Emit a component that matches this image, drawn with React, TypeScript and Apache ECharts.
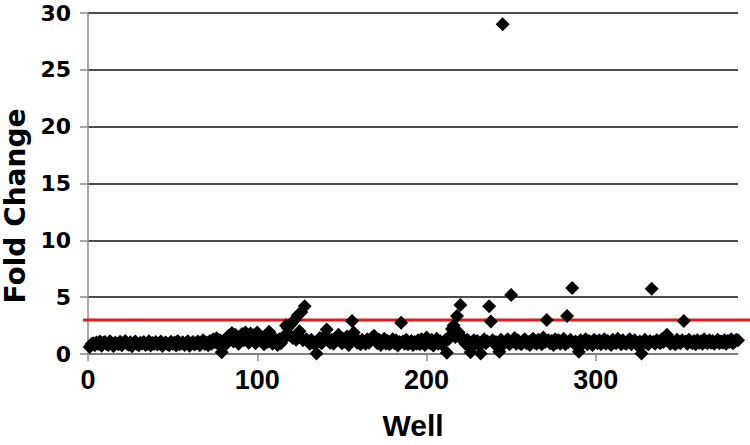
import React, { useEffect, useRef } from "react";
import * as echarts from "echarts";

// Fold change per well (wells 1..384)
const foldChange: number[] = [
  0.62, 0.85, 0.95, 0.78, 1.02, 0.9, 1.1, 0.72, 0.98, 1.05, 0.88, 0.8, 1.12, 0.95, 0.7, 1.0,
  0.92, 0.85, 1.08, 0.76, 0.98, 1.15, 0.9, 0.82, 1.04, 0.68, 0.95, 1.1, 0.87, 0.78, 1.0, 0.93,
  1.06, 0.8, 0.9, 1.12, 0.74, 0.97, 0.88, 1.05, 0.83, 0.92, 1.1, 0.7, 0.95, 1.02, 0.86, 0.78,
  1.08, 0.9, 0.98, 0.75, 1.14, 0.85, 0.93, 1.03, 0.8, 0.96, 1.12, 0.72, 0.9, 1.06, 0.84, 0.99,
  1.1, 0.78, 0.94, 1.2, 0.88, 1.02, 0.76, 1.15, 0.9, 1.3, 1.05, 1.38, 0.85, 1.22, 0.15, 1.1,
  1.25, 0.95, 1.6, 1.45, 1.85, 1.1, 1.7, 1.35, 0.9, 1.55, 1.75, 1.2, 1.9, 1.4, 1.0, 1.8,
  1.3, 1.65, 0.95, 1.9, 1.45, 1.15, 1.2, 0.85, 1.5, 1.05, 1.95, 1.25, 0.9, 1.4, 1.1, 0.8,
  1.3, 0.95, 1.2, 1.6, 2.5, 2.3, 1.7, 2.65, 1.4, 3.0, 1.25, 3.4, 2.0, 3.7, 1.2, 4.2,
  1.3, 1.1, 0.9, 1.25, 1.05, 0.85, 0.05, 1.15, 1.4, 0.95, 1.2, 1.6, 2.15, 1.35, 1.0, 1.25,
  0.9, 1.1, 1.45, 1.7, 1.2, 0.95, 1.3, 1.05, 1.55, 0.8, 1.2, 2.9, 1.9, 1.35, 1.0, 1.15,
  0.85, 1.25, 1.05, 0.9, 1.3, 1.0, 1.2, 1.45, 1.6, 1.1, 0.95, 1.25, 0.8, 1.05, 1.35, 0.9,
  1.15, 0.85, 1.0, 1.3, 0.95, 1.2, 0.75, 1.05, 2.75, 1.1, 0.9, 1.25, 0.85, 1.0, 1.15, 0.8,
  1.05, 0.9, 1.2, 0.85, 1.3, 1.0, 0.8, 1.45, 1.1, 0.95, 1.25, 0.75, 1.05, 1.35, 0.9, 1.15,
  0.85, 1.0, 1.2, 0.1, 1.3, 1.6, 2.2, 2.5, 1.5, 3.35, 1.9, 4.3, 1.4, 1.1, 0.9, 1.25,
  0.8, 0.15, 1.05, 1.2, 0.9, 1.15, 0.85, 0.05, 1.0, 1.3, 0.95, 1.1, 4.2, 2.85, 1.2, 0.9,
  1.05, 0.75, 0.2, 1.25, 29.0, 0.95, 1.15, 1.3, 0.85, 5.2, 1.1, 1.4, 0.9, 1.2, 1.0, 0.85,
  1.15, 1.3, 0.95, 1.05, 0.8, 1.2, 1.35, 1.0, 0.9, 1.25, 1.1, 0.85, 1.45, 1.05, 3.0, 1.2,
  0.95, 1.15, 0.8, 1.3, 1.0, 1.2, 0.9, 1.1, 1.35, 0.85, 3.35, 1.05, 1.25, 5.8, 0.95, 1.1,
  0.75, 0.2, 1.2, 0.9, 1.05, 1.3, 0.85, 1.15, 1.0, 0.8, 1.25, 1.1, 0.95, 1.2, 0.85, 1.05,
  1.3, 0.9, 1.15, 1.0, 0.8, 1.25, 1.05, 0.95, 1.35, 1.1, 0.85, 1.2, 1.0, 0.9, 1.15, 1.3,
  0.85, 1.05, 1.2, 0.95, 0.7, 1.1, 0.05, 0.9, 1.25, 1.0, 0.85, 1.15, 5.75, 1.05, 0.9, 1.2,
  1.1, 0.95, 1.3, 1.05, 1.45, 1.7, 1.2, 0.9, 1.15, 1.0, 0.85, 1.25, 1.05, 0.95, 1.2, 2.9,
  1.1, 0.9, 1.25, 1.05, 0.95, 1.15, 0.85, 1.2, 1.0, 1.1, 0.9, 1.3, 1.05, 0.95, 1.2, 1.0,
  1.15, 0.9, 1.05, 1.25, 0.95, 1.1, 1.0, 1.2, 0.9, 1.15, 1.05, 1.3, 0.95, 1.1, 1.25, 1.2,
];

const xTickValues: number[] = [0, 100, 200, 300];
const threshold = 3;
const xTitle = "Well";
const yTitle = "Fold Change";

export default function App() {
  const ref = useRef<HTMLDivElement>(null);

  useEffect(() => {
    if (!ref.current) return;
    const chart = echarts.init(ref.current, undefined, { renderer: "svg" });
    const points = foldChange.map((v, i) => [i + 1, v]);
    const yFont = "'DejaVu Sans', 'Liberation Sans', sans-serif";
    const xFont = "'Liberation Sans', Arial, sans-serif";

    chart.setOption({
      animation: false,
      backgroundColor: "#ffffff",
      grid: { left: 88, right: 12, top: 13, bottom: 83, containLabel: false },
      xAxis: {
        type: "value",
        min: 0,
        max: 384,
        interval: 100,
        name: xTitle,
        nameLocation: "middle",
        nameGap: 56,
        nameTextStyle: { fontFamily: xFont, fontWeight: "bold", fontSize: 30, color: "#000" },
        axisLine: { show: true, onZero: false, lineStyle: { color: "#8c8c8c", width: 1.5 } },
        axisTick: { show: true, length: 7, customValues: xTickValues, lineStyle: { color: "#8c8c8c", width: 1.5 } },
        axisLabel: {
          customValues: xTickValues,
          fontFamily: xFont,
          fontWeight: "bold",
          fontSize: 27,
          color: "#000",
          margin: 12,
        },
        splitLine: { show: false },
      },
      yAxis: {
        type: "value",
        min: 0,
        max: 30,
        interval: 5,
        axisLine: { show: true, lineStyle: { color: "#8c8c8c", width: 1.5 } },
        axisTick: { show: true, length: 8, lineStyle: { color: "#8c8c8c", width: 1.5 } },
        axisLabel: { fontFamily: yFont, fontWeight: "bold", fontSize: 22, color: "#000", margin: 17 },
        splitLine: { show: true, lineStyle: { color: "#111", width: 1.5 } },
      },
      series: [
        {
          type: "scatter",
          data: points,
          symbol: "diamond",
          symbolSize: 14,
          itemStyle: { color: "#000", opacity: 1 },
          z: 3,
        },
      ],
    });

    const yPix = chart.convertToPixel({ yAxisIndex: 0 }, threshold) as number;
    chart.setOption({
      graphic: [
        {
          type: "line",
          z: 1,
          shape: { x1: 83, y1: yPix, x2: 750, y2: yPix },
          style: { stroke: "#e41a1c", lineWidth: 3 },
        },
        {
          type: "text",
          x: 15,
          y: 206,
          rotation: Math.PI / 2,
          style: {
            text: yTitle,
            fontFamily: yFont,
            fontWeight: "bold",
            fontSize: 28,
            fill: "#000",
            align: "center",
            verticalAlign: "middle",
          },
        },
      ],
    });

    return () => chart.dispose();
  }, []);

  return (
    <div
      ref={ref}
      style={{ position: "fixed", left: 0, top: 0, width: 750, height: 445, background: "#fff" }}
    />
  );
}
